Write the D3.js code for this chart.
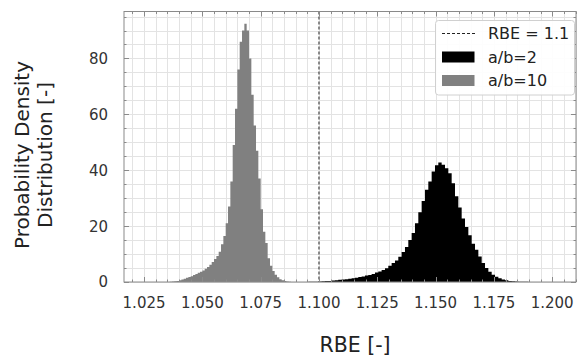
<!DOCTYPE html>
<html>
<head>
<meta charset="utf-8">
<script src="https://cdn.jsdelivr.net/npm/d3@7"></script>
<style>
  html, body { margin: 0; padding: 0; background: #fff; }
  svg { display: block; font-family: "DejaVu Sans", sans-serif; }
</style>
</head>
<body>
<svg id="chart" width="577" height="360"></svg>
<script>
// ---- Data ----
const grayLabel = "a/b=10";
const grayStart = 1.036;
const grayBinWidth = 0.001;
const grayValues = [0.1, 0.15, 0.25, 0.4, 0.6, 0.9, 1.2, 1.5, 1.8, 2.1,
  2.5, 2.9, 3.3, 3.7, 4.1, 4.7, 5.4, 6.2, 7.2, 8.2,
  9.3, 10.8, 13.5, 16.5, 21, 27, 36, 49, 62, 76,
  86, 90, 92.4, 90, 80, 67, 56, 47, 37, 26,
  18, 14, 8.5, 5.8, 3.9, 2.6, 1.7, 1.0, 0.6, 0.35, 0.2, 0.1];

const blackLabel = "a/b=2";
const blackStart = 1.0954;
const blackBinWidth = 0.00143;
const blackValues = [0.05, 0.08, 0.12, 0.18, 0.25, 0.32, 0.4, 0.5, 0.6, 0.8,
  0.9, 1.0, 1.2, 1.3, 1.5, 1.8, 2.0, 2.3, 2.5, 2.9,
  3.4, 3.8, 4.3, 4.9, 5.8, 6.8, 7.7, 9.0, 10.7, 12.5,
  15, 17.5, 21, 25, 29, 33, 36, 39.5, 41.8,
  42.8, 42.0, 40.7, 38.9, 35.3, 30.7, 26.7, 22.7, 19.7, 16.7,
  13.7, 11.5, 9.1, 6.8, 5.0, 3.7, 2.6, 1.9, 1.3, 0.9,
  0.6, 0.4, 0.3, 0.2, 0.12, 0.08, 0.05, 0.03];

const refLabel = "RBE = 1.1";
const refValue = 1.1;

const xDomain = [1.0164, 1.2102];
const yDomain = [0, 96.8];
const xTickValues = [1.025, 1.050, 1.075, 1.100, 1.125, 1.150, 1.175, 1.200];
const yTickValues = [0, 20, 40, 60, 80];
const xLabel = "RBE [-]";
const yLabelLines = ["Probability Density", "Distribution [-]"];

// ---- Layout ----
const svg = d3.select("#chart");
const L = 124, R = 576, T = 11.5, B = 282;
const x = d3.scaleLinear().domain(xDomain).range([L, R]);
const y = d3.scaleLinear().domain(yDomain).range([B, T]);

const xMinor = d3.range(1.020, 1.2101, 0.005).map(v => +v.toFixed(3)).filter(v => v >= xDomain[0] && v <= xDomain[1]);
const yMinor = d3.range(0, 96, 5);

// grid
const grid = svg.append("g");
grid.selectAll("line.vx").data(xMinor).join("line")
  .attr("x1", d => Math.round(x(d)) + 0.5).attr("x2", d => Math.round(x(d)) + 0.5)
  .attr("y1", T).attr("y2", B)
  .attr("stroke", "#e3e3e3").attr("stroke-width", 1);
grid.selectAll("line.hy").data(yMinor).join("line")
  .attr("y1", d => Math.round(y(d)) + 0.5).attr("y2", d => Math.round(y(d)) + 0.5)
  .attr("x1", L).attr("x2", R)
  .attr("stroke", "#e3e3e3").attr("stroke-width", 1);

// histograms
function histPath(start, w, vals) {
  const pts = vals.map((v, i) => [start + i * w, v]);
  pts.push([start + vals.length * w, vals[vals.length - 1]]);
  return d3.area()
    .x(d => x(d[0]))
    .y0(y(0))
    .y1(d => y(d[1]))
    .curve(d3.curveStepAfter)(pts);
}
svg.append("path").attr("d", histPath(grayStart, grayBinWidth, grayValues)).attr("fill", "#808080");
svg.append("path").attr("d", histPath(blackStart, blackBinWidth, blackValues)).attr("fill", "#000");

// reference dashed line
svg.append("line")
  .attr("x1", x(refValue)).attr("x2", x(refValue))
  .attr("y1", T).attr("y2", B)
  .attr("stroke", "#222").attr("stroke-width", 1)
  .attr("stroke-dasharray", "3,2");

// frame
svg.append("rect").attr("x", L).attr("y", T).attr("width", R - L).attr("height", B - T)
  .attr("fill", "none").attr("stroke", "#8a8a8a").attr("stroke-width", 1);

// ticks (inward, all sides)
const tk = svg.append("g").attr("stroke", "#8a8a8a").attr("stroke-width", 1);
xMinor.forEach(v => {
  const len = xTickValues.some(t => Math.abs(t - v) < 1e-6) ? 5 : 2.5;
  const px = Math.round(x(v)) + 0.5;
  tk.append("line").attr("x1", px).attr("x2", px).attr("y1", B).attr("y2", B - len);
  tk.append("line").attr("x1", px).attr("x2", px).attr("y1", T).attr("y2", T + len);
});
yMinor.forEach(v => {
  const len = yTickValues.includes(v) ? 5 : 2.5;
  const py = Math.round(y(v)) + 0.5;
  tk.append("line").attr("y1", py).attr("y2", py).attr("x1", L).attr("x2", L + len);
  tk.append("line").attr("y1", py).attr("y2", py).attr("x1", R).attr("x2", R - len);
});

// tick labels
const fmt = d3.format(".3f");
svg.append("g").selectAll("text").data(xTickValues).join("text")
  .attr("x", d => x(d)).attr("y", 308)
  .attr("text-anchor", "middle")
  .attr("font-size", 15).attr("fill", "#333")
  .text(d => fmt(d));
svg.append("g").selectAll("text").data(yTickValues).join("text")
  .attr("x", 108).attr("y", d => y(d))
  .attr("dy", "0.36em")
  .attr("text-anchor", "end")
  .attr("font-size", 15).attr("fill", "#333")
  .text(d => d);

// axis labels
svg.append("text").attr("x", 355).attr("y", 352)
  .attr("text-anchor", "middle").attr("font-size", 20.5).attr("fill", "#222")
  .text(xLabel);
const yl = svg.append("text")
  .attr("transform", "translate(0,155) rotate(-90)")
  .attr("text-anchor", "middle").attr("font-size", 20).attr("fill", "#222");
yl.append("tspan").attr("x", 0).attr("y", 29).text(yLabelLines[0]);
yl.append("tspan").attr("x", 0).attr("y", 52).text(yLabelLines[1]);

// legend
const lg = svg.append("g");
lg.append("rect").attr("x", 435.5).attr("y", 20.5).attr("width", 139).attr("height", 74.5)
  .attr("rx", 3).attr("fill", "#fff").attr("fill-opacity", 0.9)
  .attr("stroke", "#d0d0d0").attr("stroke-width", 1);
lg.append("line").attr("x1", 442).attr("x2", 475).attr("y1", 33.5).attr("y2", 33.5)
  .attr("stroke", "#222").attr("stroke-dasharray", "3,2");
lg.append("text").attr("x", 488).attr("y", 33.5).attr("dy", "0.36em")
  .attr("font-size", 16).attr("fill", "#222").text(refLabel);
lg.append("rect").attr("x", 442).attr("y", 51.5).attr("width", 32.5).attr("height", 11).attr("fill", "#000");
lg.append("text").attr("x", 488).attr("y", 57).attr("dy", "0.36em")
  .attr("font-size", 16).attr("fill", "#222").text(blackLabel);
lg.append("rect").attr("x", 442).attr("y", 75).attr("width", 32.5).attr("height", 11).attr("fill", "#808080");
lg.append("text").attr("x", 488).attr("y", 80.5).attr("dy", "0.36em")
  .attr("font-size", 16).attr("fill", "#222").text(grayLabel);
</script>
</body>
</html>
